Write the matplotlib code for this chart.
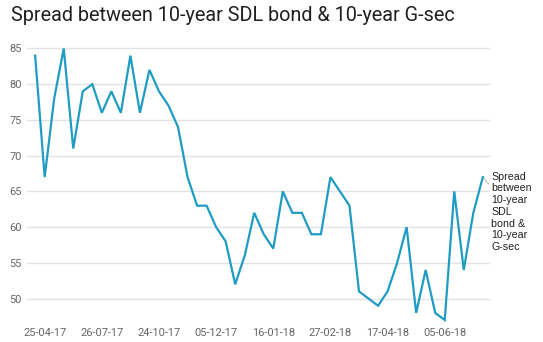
import matplotlib
matplotlib.use("Agg")
import matplotlib.pyplot as plt

# Spread (bps) between 10-year SDL bond and 10-year G-sec, weekly auctions
spread = [84, 67, 78, 85, 71, 79, 80, 76, 79, 76, 84, 76, 82, 79, 77, 74,
          67, 63, 63, 60, 58, 52, 56, 62, 59, 57, 65, 62, 62, 59, 59, 67,
          65, 63, 51, 50, 49, 51, 55, 60, 48, 54, 48, 47, 65, 54, 62, 67]
tick_idx = [1, 7, 13, 19, 25, 31, 37, 43]
tick_labels = ["25-04-17", "26-07-17", "24-10-17", "05-12-17",
               "16-01-18", "27-02-18", "17-04-18", "05-06-18"]
y_ticks = [50, 55, 60, 65, 70, 75, 80, 85]
series_name = "Spread\nbetween\n10-year\nSDL\nbond &\n10-year\nG-sec"

fig = plt.figure(figsize=(5.43, 3.42), dpi=100)
ax = fig.add_axes([0.05, 0.058, 0.852, 0.84])

x = list(range(len(spread)))
ax.plot(x, spread, color="#1f9cc4", linewidth=1.6, solid_joinstyle="miter")

ax.set_xlim(-0.84, 47.73)
ax.set_ylim(46.7, 86.9)
ax.set_yticks(y_ticks)
ax.set_xticks(tick_idx)
ax.set_xticklabels(tick_labels)
ax.grid(axis="y", color="#e3e3e3", linewidth=1)
ax.set_axisbelow(True)
for s in ax.spines.values():
    s.set_visible(False)
ax.tick_params(length=0, labelsize=7.9, labelcolor="#666666", pad=4)
for lab in ax.get_xticklabels() + ax.get_yticklabels():
    lab.set_family("Roboto")

# series label at the end of the line
ax.annotate(series_name, xy=(x[-1], spread[-1]), xytext=(6, 4),
            textcoords="offset points", ha="left", va="top",
            fontsize=7.7, family="Liberation Sans", color="#222222",
            linespacing=1.22, annotation_clip=False,
            arrowprops=dict(arrowstyle="-", color="#999999", linestyle=":", linewidth=0.8,
                            shrinkA=0, shrinkB=0))

fig.text(0.02, 0.955, "Spread between 10-year SDL bond & 10-year G-sec",
         fontsize=14.3, family="Roboto", color="#212121", ha="left", va="center")

fig.savefig("out.png", dpi=100)
